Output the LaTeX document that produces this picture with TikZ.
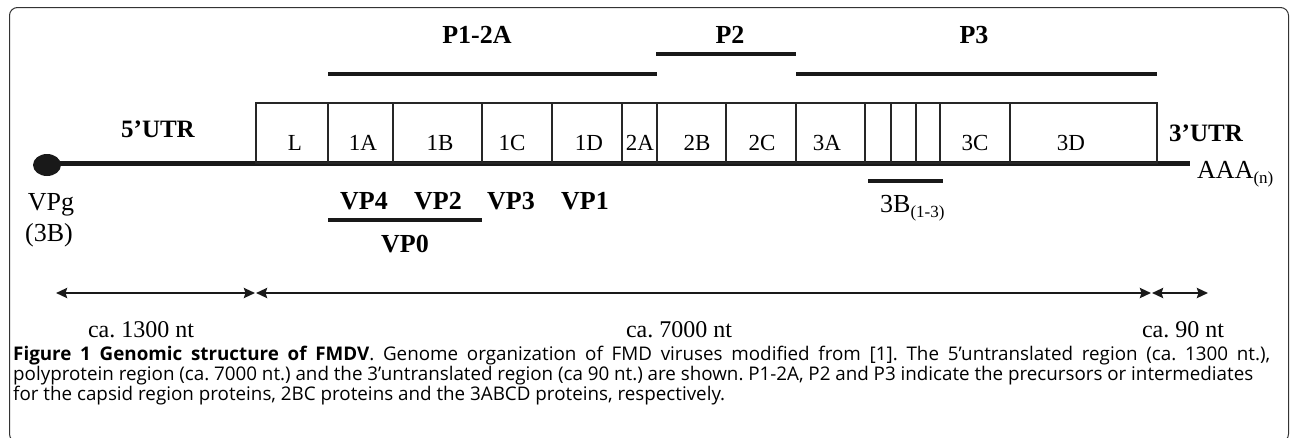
\documentclass[tikz,border=0pt]{standalone}
\usepackage{fontspec}
\setmainfont{Liberation Serif}
\newfontfamily\capfont{Open Sans}
\usetikzlibrary{arrows.meta,shapes.geometric}
\newcommand\fsz[1]{\fontsize{#1}{#1}\selectfont}
\frenchspacing
\begin{document}
\begin{tikzpicture}[x=1pt,y=-1pt,
  lbl/.style={inner sep=0pt, anchor=base},
  boxlbl/.style={lbl, font=\fsz{23}},
  blbl/.style={lbl, font=\fsz{26}\bfseries},
  rlbl/.style={lbl, font=\fsz{26}},
  nlbl/.style={lbl, font=\fsz{24}},
  caplbl/.style={inner sep=0pt, anchor=base west, font=\capfont\fsz{18.8}},
  seg/.style={draw=black!85, line width=1.2pt},
  bar/.style={draw=black!90, line width=4pt},
  genome/.style={draw=black!90, line width=5pt},
  dim/.style={draw=black!90, line width=2.8pt, {Stealth[length=11pt,width=10pt,inset=1.5pt]}-{Stealth[length=11pt,width=10pt,inset=1.5pt]}},
  frame/.style={draw=black!80, line width=1pt, rounded corners=8pt}]
\useasboundingbox (0,0) rectangle (1290,437);
\clip (0,0) rectangle (1290,437);
\draw[frame] (9.5,7.5) rectangle (1288.5,442);

% genome line and VPg
\coordinate (gstart) at (47,163);
\coordinate (gend) at (1190,163);
\draw[genome] (gstart) -- (gend);
\node[fill=black!90, ellipse, minimum width=28pt, minimum height=22pt, inner sep=0pt] (vpg) at (47,165) {};

% boxes
\foreach \a/\b/\n in {256/328/L,328/393/1A,393/482/1B,482/552/1C,552/622/1D,622/657/2A,657/726/2B,726/796/2C,796/865/3A,865/891/b1,891/916/b2,916/940/b3,940/1010/3C,1010/1157/3D}{
  \draw[seg] (\a,103) rectangle (\b,163);
  \coordinate (box\n) at ({(\a+\b)/2},151);
}
\node[boxlbl] (tL) at (295,150) {L};
\node[boxlbl] (t1A) at (363,150) {1A};
\node[boxlbl] (t1B) at (440,150) {1B};
\node[boxlbl] (t1C) at (512,150) {1C};
\node[boxlbl] (t1D) at (589,150) {1D};
\node[boxlbl] (t2A) at (640,150) {2A};
\node[boxlbl] (t2B) at (697,150) {2B};
\node[boxlbl] (t2C) at (762,150) {2C};
\node[boxlbl] (t3A) at (827,150) {3A};
\node[boxlbl] (t3C) at (975,150) {3C};
\node[boxlbl] (t3D) at (1071,150) {3D};

% precursor bars
\coordinate (p1a) at (328,74); \coordinate (p1b) at (657,74);
\coordinate (p2a) at (656,54); \coordinate (p2b) at (796,54);
\coordinate (p3a) at (796,74); \coordinate (p3b) at (1157,74);
\draw[bar] (p1a) -- (p1b);
\draw[bar] (p2a) -- (p2b);
\draw[bar] (p3a) -- (p3b);
\node[blbl] (P12A) at (477,43) {P1-2A};
\node[blbl] (P2) at (730,43) {P2};
\node[blbl] (P3) at (974,43) {P3};

% UTR labels
\node[lbl, font=\fsz{25}\bfseries] (utr5) at (158,137) {5’UTR};
\node[lbl, font=\fsz{25}\bfseries] (utr3) at (1206,141) {3’UTR};
\node[lbl, anchor=base west, font=\fsz{26}] (aaa) at (1197,178) {AAA\raisebox{-5pt}{\fsz{17}(n)}};

% VPg
\node[rlbl] (tvpg) at (51,210) {VPg};
\node[rlbl] (t3B) at (49,241) {(3B)};

% VP labels
\node[blbl] (vp4) at (364,209) {VP4};
\node[blbl] (vp2) at (438,209) {VP2};
\node[blbl] (vp3) at (511,209) {VP3};
\node[blbl] (vp1) at (585,209) {VP1};
\coordinate (vp0a) at (328,220); \coordinate (vp0b) at (482,220);
\draw[bar] (vp0a) -- (vp0b);
\node[blbl] (vp0) at (405,252) {VP0};

% 3B bar
\coordinate (b3a) at (868,181); \coordinate (b3b) at (943,181);
\draw[bar] (b3a) -- (b3b);
\node[lbl, anchor=base west, font=\fsz{26}] (t3B13) at (880,212) {3B\raisebox{-5pt}{\fsz{17}(1-3)}};

% length arrows
\coordinate (d1) at (56,293); \coordinate (d2) at (255,293);
\coordinate (d3) at (256,293); \coordinate (d4) at (1151,293);
\coordinate (d5) at (1152,293); \coordinate (d6) at (1208,293);
\draw[dim] (d1) -- (d2);
\draw[dim] (d3) -- (d4);
\draw[dim] (d5) -- (d6);
\node[nlbl] (n1) at (141,337) {ca. 1300 nt};
\node[nlbl] (n2) at (679,337) {ca. 7000 nt};
\node[nlbl] (n3) at (1183,337) {ca. 90 nt};

% caption
\node[caplbl] (cap1) at (13,360) {\hbox to 1257pt{\textbf{Figure 1 Genomic structure of FMDV}. Genome organization of FMD viruses modified from [1]. The 5’untranslated region (ca. 1300 nt.),}};
\node[caplbl] (cap2) at (13,380) {\hbox to 1240pt{polyprotein region (ca. 7000 nt.) and the 3’untranslated region (ca 90 nt.) are shown. P1-2A, P2 and P3 indicate the precursors or intermediates}};
\node[caplbl] (cap3) at (13,400) {for the capsid region proteins, 2BC proteins and the 3ABCD proteins, respectively.};
\end{tikzpicture}
\end{document}
